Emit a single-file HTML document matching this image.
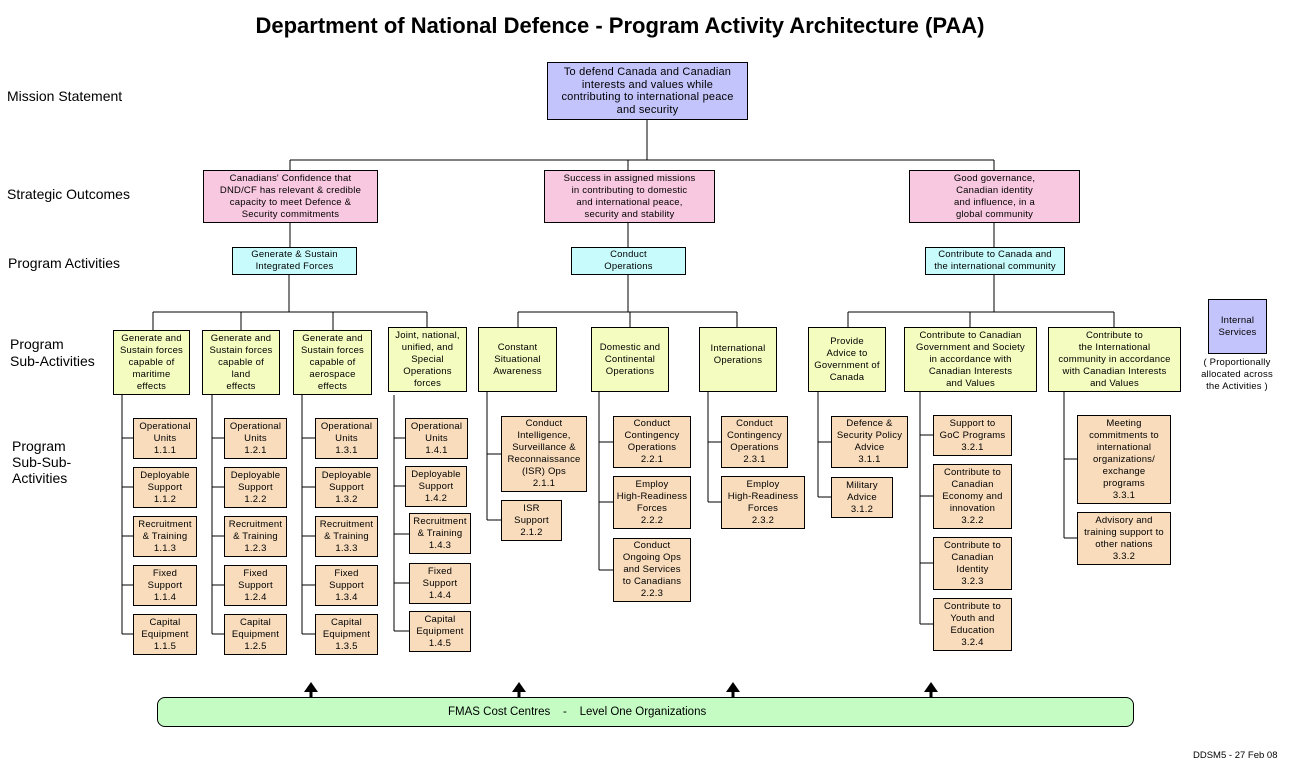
<!DOCTYPE html>
<html><head><meta charset="utf-8"><style>
body{margin:0;width:1298px;height:770px;background:#fff;position:relative;overflow:hidden;font-family:"Liberation Sans",sans-serif}
.b{position:absolute;display:flex;align-items:center;justify-content:center;text-align:center;border:1px solid #000;box-sizing:border-box;font-size:9.5px;line-height:12px;color:#000;padding:0;white-space:nowrap;letter-spacing:0.2px}
.m{background:#c4c4fc}.s{background:#f8c8e0}.p{background:#c8fcfc}.y{background:#f4fcc0}.o{background:#f8dcbc}
.l{position:absolute;font-size:14px;color:#000}
svg{position:absolute;left:0;top:0}
</style></head><body>
<div style="position:absolute;left:0;width:1240px;top:13px;text-align:center;font-weight:bold;font-size:22px">Department of National Defence - Program Activity Architecture (PAA)</div>
<div class="l" style="left:7px;top:88px">Mission Statement</div>
<div class="l" style="left:7px;top:186px">Strategic Outcomes</div>
<div class="l" style="left:8px;top:255px">Program Activities</div>
<div class="l" style="left:10px;top:336px;line-height:17px">Program<br>Sub-Activities</div>
<div class="l" style="left:12px;top:438px;line-height:16px">Program<br>Sub-Sub-<br>Activities</div>

<svg width="1298" height="770" stroke="#000" stroke-width="1" fill="none">
<path d="M647 120V160M290 160H994M290 160V170M628 160V170M994 160V170M290 223V247M628 223V247M994 223V247"/>
<path d="M289 275V312M153 312H427M153 312V330M241 312V330M333 312V330M427 312V330"/>
<path d="M628 275V312M518 312H737M518 312V327M630 312V327M737 312V327"/>
<path d="M994 275V312M848 312H1114M848 312V327M970 312V327M1114 312V327"/>
<path d="M122 395V634M122 438H133M122 487H133M122 536H133M122 585H133M122 634H133"/>
<path d="M212 395V634M212 438H224M212 487H224M212 536H224M212 585H224M212 634H224"/>
<path d="M302 395V634M302 438H315M302 487H315M302 536H315M302 585H315M302 634H315"/>
<path d="M394 395V631M394 438H406M394 486H409M394 534H409M394 583H409M394 631H409"/>
<path d="M487 392V520M487 454H501M487 520H501"/>
<path d="M599 392V570M599 442H613M599 502H613M599 570H613"/>
<path d="M708 392V502M708 442H721M708 502H721"/>
<path d="M818 392V497M818 442H831M818 497H831"/>
<path d="M920 392V624M920 435H933M920 496H933M920 563H933M920 624H933"/>
<path d="M1064 392V538M1064 459H1077M1064 538H1077"/>
<g fill="#000" stroke="none">
<polygon points="311,682 304,692 318,692"/><polygon points="519,682 512,692 526,692"/><polygon points="733,682 726,692 740,692"/><polygon points="931,682 924,692 938,692"/>
</g>
<path d="M311 690V697M519 690V697M733 690V697M931 690V697" stroke-width="3"/>
</svg>

<div class="b m" style="left:547px;top:62px;width:201px;height:58px;font-size:11px;line-height:12.5px">To defend Canada and Canadian<br>interests and values while<br>contributing to international peace<br>and security</div>

<div class="b s" style="left:203px;top:170px;width:175px;height:53px">Canadians' Confidence that<br>DND/CF has relevant &amp; credible<br>capacity to meet Defence &amp;<br>Security commitments</div>
<div class="b s" style="left:544px;top:170px;width:171px;height:53px">Success in assigned missions<br>in contributing to domestic<br>and international peace,<br>security and stability</div>
<div class="b s" style="left:909px;top:170px;width:171px;height:53px">Good governance,<br>Canadian identity<br>and influence, in a<br>global community</div>

<div class="b p" style="left:232px;top:247px;width:125px;height:28px">Generate &amp; Sustain<br>Integrated Forces</div>
<div class="b p" style="left:571px;top:247px;width:115px;height:28px">Conduct<br>Operations</div>
<div class="b p" style="left:925px;top:247px;width:140px;height:28px">Contribute to Canada and<br>the international community</div>

<div class="b y" style="left:113px;top:330px;width:77px;height:65px">Generate and<br>Sustain forces<br>capable of<br>maritime<br>effects</div>
<div class="b y" style="left:202px;top:330px;width:78px;height:65px">Generate and<br>Sustain forces<br>capable of<br>land<br>effects</div>
<div class="b y" style="left:293px;top:330px;width:79px;height:65px">Generate and<br>Sustain forces<br>capable of<br>aerospace<br>effects</div>
<div class="b y" style="left:388px;top:327px;width:79px;height:65px">Joint, national,<br>unified, and<br>Special<br>Operations<br>forces</div>
<div class="b y" style="left:478px;top:327px;width:79px;height:65px">Constant<br>Situational<br>Awareness</div>
<div class="b y" style="left:591px;top:327px;width:78px;height:65px">Domestic and<br>Continental<br>Operations</div>
<div class="b y" style="left:699px;top:327px;width:78px;height:65px;padding-bottom:10px">International<br>Operations</div>
<div class="b y" style="left:808px;top:327px;width:78px;height:65px">Provide<br>Advice to<br>Government of<br>Canada</div>
<div class="b y" style="left:904px;top:327px;width:133px;height:65px">Contribute to Canadian<br>Government and Society<br>in accordance with<br>Canadian Interests<br>and Values</div>
<div class="b y" style="left:1048px;top:327px;width:133px;height:65px">Contribute to<br>the International<br>community in accordance<br>with Canadian Interests<br>and Values</div>

<div class="b m" style="left:1208px;top:299px;width:59px;height:55px">Internal<br>Services</div>
<div style="position:absolute;left:1190px;top:357px;width:94px;text-align:center;font-size:9.5px;line-height:12px;letter-spacing:0.2px">( Proportionally<br>allocated across<br>the Activities )</div>

<div class="b o" style="left:133px;top:418px;width:64px;height:41px">Operational<br>Units<br>1.1.1</div>
<div class="b o" style="left:133px;top:467px;width:64px;height:41px">Deployable<br>Support<br>1.1.2</div>
<div class="b o" style="left:133px;top:516px;width:64px;height:41px">Recruitment<br>&amp; Training<br>1.1.3</div>
<div class="b o" style="left:133px;top:565px;width:64px;height:41px">Fixed<br>Support<br>1.1.4</div>
<div class="b o" style="left:133px;top:614px;width:64px;height:41px">Capital<br>Equipment<br>1.1.5</div>

<div class="b o" style="left:224px;top:418px;width:63px;height:41px">Operational<br>Units<br>1.2.1</div>
<div class="b o" style="left:224px;top:467px;width:63px;height:41px">Deployable<br>Support<br>1.2.2</div>
<div class="b o" style="left:224px;top:516px;width:63px;height:41px">Recruitment<br>&amp; Training<br>1.2.3</div>
<div class="b o" style="left:224px;top:565px;width:63px;height:41px">Fixed<br>Support<br>1.2.4</div>
<div class="b o" style="left:224px;top:614px;width:63px;height:41px">Capital<br>Equipment<br>1.2.5</div>

<div class="b o" style="left:315px;top:418px;width:63px;height:41px">Operational<br>Units<br>1.3.1</div>
<div class="b o" style="left:315px;top:467px;width:63px;height:41px">Deployable<br>Support<br>1.3.2</div>
<div class="b o" style="left:315px;top:516px;width:63px;height:41px">Recruitment<br>&amp; Training<br>1.3.3</div>
<div class="b o" style="left:315px;top:565px;width:63px;height:41px">Fixed<br>Support<br>1.3.4</div>
<div class="b o" style="left:315px;top:614px;width:63px;height:41px">Capital<br>Equipment<br>1.3.5</div>

<div class="b o" style="left:405px;top:418px;width:63px;height:41px">Operational<br>Units<br>1.4.1</div>
<div class="b o" style="left:405px;top:466px;width:62px;height:41px">Deployable<br>Support<br>1.4.2</div>
<div class="b o" style="left:409px;top:513px;width:62px;height:41px">Recruitment<br>&amp; Training<br>1.4.3</div>
<div class="b o" style="left:409px;top:563px;width:62px;height:41px">Fixed<br>Support<br>1.4.4</div>
<div class="b o" style="left:409px;top:611px;width:62px;height:41px">Capital<br>Equipment<br>1.4.5</div>

<div class="b o" style="left:501px;top:416px;width:86px;height:76px">Conduct<br>Intelligence,<br>Surveillance &amp;<br>Reconnaissance<br>(ISR) Ops<br>2.1.1</div>
<div class="b o" style="left:501px;top:500px;width:61px;height:41px">ISR<br>Support<br>2.1.2</div>

<div class="b o" style="left:613px;top:416px;width:78px;height:52px">Conduct<br>Contingency<br>Operations<br>2.2.1</div>
<div class="b o" style="left:613px;top:476px;width:78px;height:53px">Employ<br>High-Readiness<br>Forces<br>2.2.2</div>
<div class="b o" style="left:613px;top:538px;width:78px;height:64px">Conduct<br>Ongoing Ops<br>and Services<br>to Canadians<br>2.2.3</div>

<div class="b o" style="left:721px;top:416px;width:67px;height:52px">Conduct<br>Contingency<br>Operations<br>2.3.1</div>
<div class="b o" style="left:721px;top:476px;width:84px;height:53px">Employ<br>High-Readiness<br>Forces<br>2.3.2</div>

<div class="b o" style="left:831px;top:416px;width:77px;height:52px">Defence &amp;<br>Security Policy<br>Advice<br>3.1.1</div>
<div class="b o" style="left:831px;top:477px;width:62px;height:41px">Military<br>Advice<br>3.1.2</div>

<div class="b o" style="left:933px;top:415px;width:79px;height:41px">Support to<br>GoC Programs<br>3.2.1</div>
<div class="b o" style="left:933px;top:464px;width:79px;height:65px">Contribute to<br>Canadian<br>Economy and<br>innovation<br>3.2.2</div>
<div class="b o" style="left:933px;top:537px;width:79px;height:53px">Contribute to<br>Canadian<br>Identity<br>3.2.3</div>
<div class="b o" style="left:933px;top:598px;width:79px;height:53px">Contribute to<br>Youth and<br>Education<br>3.2.4</div>

<div class="b o" style="left:1077px;top:415px;width:94px;height:89px">Meeting<br>commitments to<br>international<br>organizations/<br>exchange<br>programs<br>3.3.1</div>
<div class="b o" style="left:1077px;top:512px;width:94px;height:53px">Advisory and<br>training support to<br>other nations<br>3.3.2</div>

<div style="position:absolute;left:157px;top:697px;width:977px;height:30px;box-sizing:border-box;border:1px solid #000;border-radius:8px;background:#c4fcc4;font-size:11.5px;line-height:29px;white-space:pre"><span style="position:absolute;left:290px">FMAS Cost Centres    -    Level One Organizations</span></div>

<div style="position:absolute;left:1193px;top:750px;font-size:9.5px">DDSM5 - 27 Feb 08</div>
</body></html>
